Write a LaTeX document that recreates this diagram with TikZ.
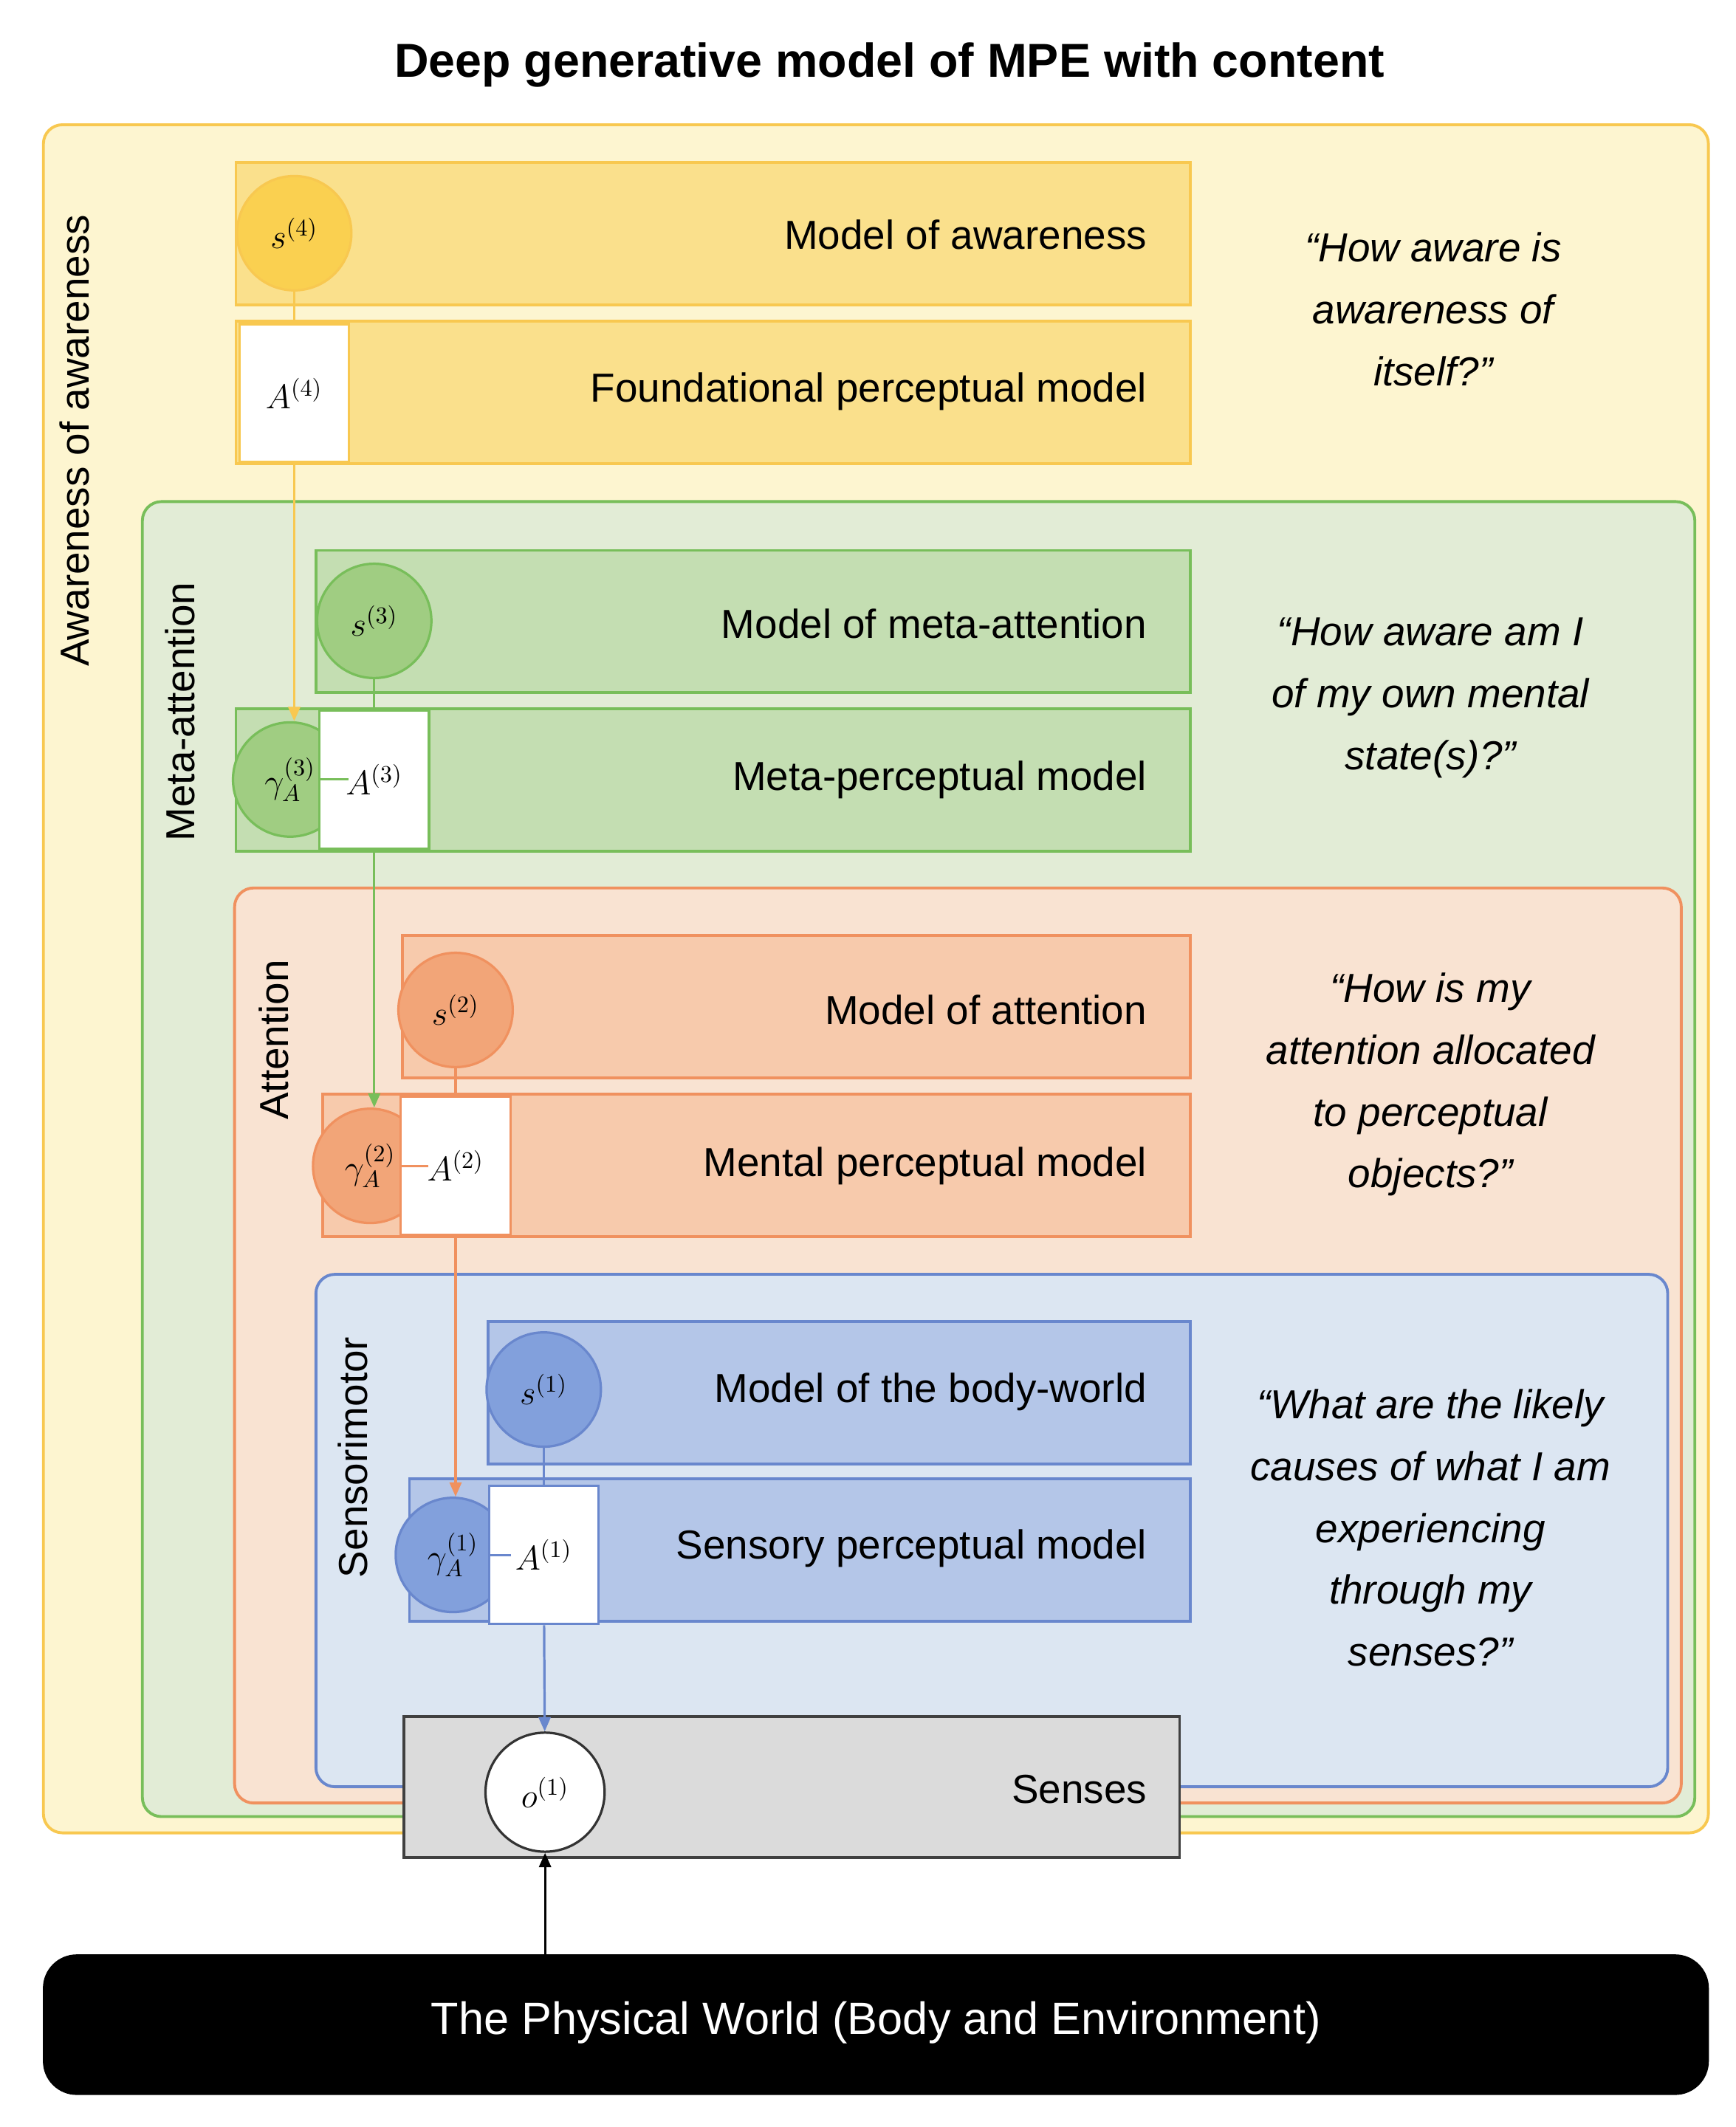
\documentclass[tikz,border=0pt]{standalone}
\usepackage{fontspec}
\setmainfont{Liberation Sans}
\usetikzlibrary{arrows.meta}
\definecolor{yO}{RGB}{253,245,208}\definecolor{yB}{RGB}{248,200,80}
\definecolor{yF}{RGB}{250,224,140}\definecolor{yC}{RGB}{250,208,80}
\definecolor{gO}{RGB}{226,236,214}\definecolor{gB}{RGB}{120,190,90}
\definecolor{gF}{RGB}{196,222,178}\definecolor{gC}{RGB}{160,205,130}
\definecolor{oO}{RGB}{249,227,210}\definecolor{oB}{RGB}{240,145,95}
\definecolor{oF}{RGB}{247,202,172}\definecolor{oC}{RGB}{242,165,120}
\definecolor{bO}{RGB}{220,230,242}\definecolor{bB}{RGB}{105,135,205}
\definecolor{bF}{RGB}{180,198,232}\definecolor{bC}{RGB}{130,160,220}
\begin{document}
\begin{tikzpicture}[x=0.02cm,y=-0.02cm,
 box/.style={draw=#1,line width=1.2pt},
 lbl/.style={font=\fontsize{17}{20}\selectfont,anchor=east},
 side/.style={font=\fontsize{17}{20}\selectfont,rotate=90},
 quote/.style={font=\fontsize{17}{26}\selectfont\itshape,align=center},
 st/.style={circle,draw=#1,line width=1pt,minimum size=48,inner sep=0pt,font=\fontsize{14}{14}\selectfont},
 am/.style={draw=#1,fill=white,line width=1pt,minimum width=46,minimum height=58,inner sep=0pt,font=\fontsize{14}{14}\selectfont},
 con/.style={draw=#1,line width=1pt},
 arr/.style={draw=#1,line width=1pt,-{Triangle[length=6pt,width=5pt]}}]
\useasboundingbox (0,0) rectangle (1280,1569);
\fill[white] (0,0) rectangle (1280,1569);
\node[font=\fontsize{20}{24}\selectfont\bfseries] (title) at (656,48) {Deep generative model of MPE with content};
% outer regions
\draw[box=yB,fill=yO,rounded corners=8] (32,92) rectangle (1260,1352);
\node[side] (l4) at (55,325) {Awareness of awareness};
\draw[box=yB,fill=yF] (174,120) rectangle (878,225);
\draw[box=yB,fill=yF] (174,237) rectangle (878,342);
\node[lbl] (t4a) at (852,173) {Model of awareness};
\node[lbl] (t4b) at (852,289) {Foundational perceptual model};
\node[quote] (q4) at (1057,228) {“How aware is\\awareness of\\itself?”};

\draw[box=gB,fill=gO,rounded corners=8] (105,370) rectangle (1250,1340);
\node[side] (l3) at (133,525) {Meta-attention};
\draw[box=gB,fill=gF] (233,406) rectangle (878,511);
\draw[box=gB,fill=gF] (174,523) rectangle (878,628);
\node[lbl] (t3a) at (852,460) {Model of meta-attention};
\node[lbl] (t3b) at (852,575) {Meta-perceptual model};
\node[quote] (q3) at (1055,515) {“How aware am I\\of my own mental\\state(s)?”};

\draw[box=oB,fill=oO,rounded corners=8] (173,655) rectangle (1240,1330);
\node[side] (l2) at (202,767) {Attention};
\draw[box=oB,fill=oF] (297,690) rectangle (878,795);
\draw[box=oB,fill=oF] (238,807) rectangle (878,912);
\node[lbl] (t2a) at (852,745) {Model of attention};
\node[lbl] (t2b) at (852,860) {Mental perceptual model};
\node[quote] (q2) at (1055,800) {“How is my\\attention allocated\\to perceptual\\objects?”};

\draw[box=bB,fill=bO,rounded corners=8] (233,940) rectangle (1230,1318);
\node[side] (l1) at (260,1075) {Sensorimotor};
\draw[box=bB,fill=bF] (360,975) rectangle (878,1080);
\draw[box=bB,fill=bF] (302,1091) rectangle (878,1196);
\node[lbl] (t1a) at (852,1027) {Model of the body-world};
\node[lbl] (t1b) at (852,1142) {Sensory perceptual model};
\node[quote] (q1) at (1055,1127) {“What are the likely\\causes of what I am\\experiencing\\through my\\senses?”};

\draw[line width=1.2pt,draw=black!75,fill=black!14] (298,1266) rectangle (870,1370);
\node[lbl] (tsn) at (852,1320) {Senses};
\draw[fill=black,rounded corners=14] (32,1442) rectangle (1260,1545);
\node[text=white,font=\fontsize{19}{22}\selectfont] (world) at (646,1492) {The Physical World (Body and Environment)};
\coordinate (wtop) at (402,1442);

% states
\node[st=yB,fill=yC] (s4) at (217,172) {$s^{(4)}$};
\node[am=yB] (A4) at (217,290) {$A^{(4)}$};
\node[st=gB,fill=gC] (s3) at (276,458) {$s^{(3)}$};
\node[st=gB,fill=gC] (g3) at (214,575) {$\gamma_A^{(3)}$};
\node[am=gB] (A3) at (276,575) {$A^{(3)}$};
\node[st=oB,fill=oC] (s2) at (336,745) {$s^{(2)}$};
\node[st=oB,fill=oC] (g2) at (273,860) {$\gamma_A^{(2)}$};
\node[am=oB] (A2) at (336,860) {$A^{(2)}$};
\node[st=bB,fill=bC] (s1) at (401,1025) {$s^{(1)}$};
\node[st=bB,fill=bC] (g1) at (334,1147) {$\gamma_A^{(1)}$};
\node[am=bB] (A1) at (401,1147) {$A^{(1)}$};
\node[st=black!80,fill=white,minimum size=50] (o1) at (402,1322) {$o^{(1)}$};

\draw[con=yB] (s4) -- (A4);
\draw[arr=yB] (A4.south) -- (A4.south |- g3.north);
\draw[con=gB] (s3) -- (A3); \draw[con=gB] (g3) -- (A3);
\draw[arr=gB] (A3.south) -- (A3.south |- g2.north);
\draw[con=oB] (s2) -- (A2); \draw[con=oB] (g2) -- (A2);
\draw[arr=oB] (A2.south) -- (A2.south |- g1.north);
\draw[con=bB] (s1) -- (A1); \draw[con=bB] (g1) -- (A1);
\draw[arr=bB] (A1) -- (o1);
\draw[arr=black] (wtop) -- (o1);
\end{tikzpicture}
\end{document}
